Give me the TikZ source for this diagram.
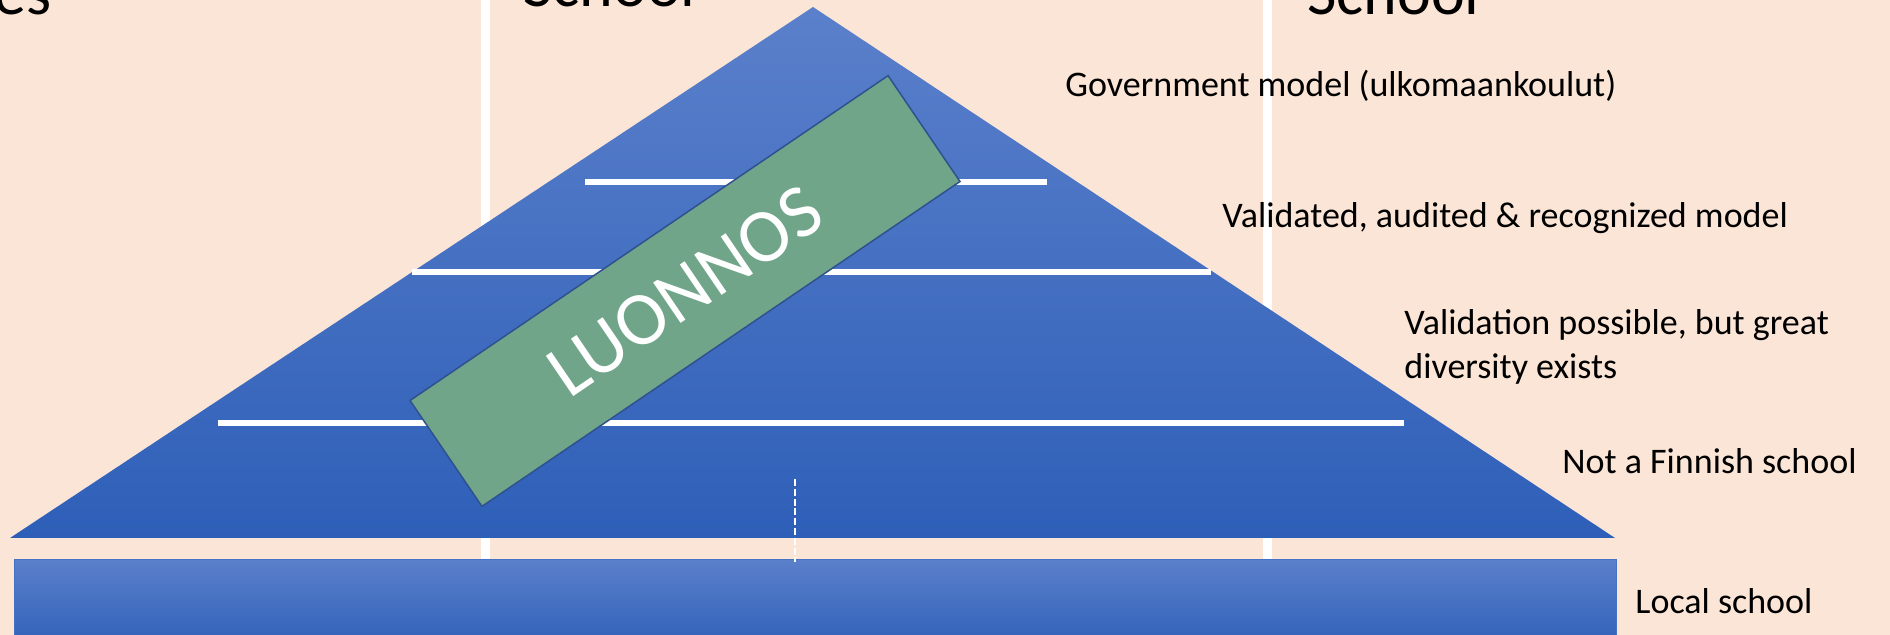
\documentclass[tikz,border=0pt]{standalone}
\usepackage{fontspec}
\setmainfont{Carlito}
\usepackage{tikz}
\usetikzlibrary{calc}
\definecolor{peach}{HTML}{FBE5D6}
\definecolor{bluetop}{HTML}{5B80CB}
\definecolor{bluebot}{HTML}{2E5FB8}
\definecolor{edgeblue}{HTML}{4472C4}
\definecolor{draftgreen}{HTML}{70A58A}
\definecolor{draftline}{HTML}{2F528F}

\begin{document}
\begin{tikzpicture}[x=0.5pt,y=-0.5pt,
    divider/.style={white,line width=3pt},
    level/.style={anchor=base west,inner sep=0pt,font=\fontsize{18}{21.6}\selectfont},
    heading/.style={anchor=base west,inner sep=0pt,font=\fontsize{32}{38}\selectfont}]
              \useasboundingbox (0,0) rectangle (1890,635);
              \clip (0,0) rectangle (1890,635);
              \fill[peach] (0,0) rectangle (1890,635);

              \foreach \x in {485,1267} {\draw[white,line width=4.5pt] (\x,0) -- (\x,560);};

              \coordinate (apex) at (813,7);
              \coordinate (baseleft) at (10,538);
              \coordinate (baseright) at (1615,538);
              \shade[top color=bluetop,bottom color=bluebot] (apex) -- (baseright) -- (baseleft) -- cycle;

              \foreach \y/\a/\b in {182/585/1047, 272/412/1211, 423/218/1404} {\draw[divider] (\a,\y) -- (\b,\y);};

              \shade[top color=bluetop,bottom color=bluebot,draw=edgeblue,line width=0.5pt] (14,560) rectangle (1616,650);

              \coordinate (splittop) at (795,479);
              \coordinate (splitbot) at (795,562);
              \draw[white,line width=1pt,dash pattern=on 3.5pt off 1.4pt] (splittop) -- (splitbot);

              \node[draw=draftline,fill=draftgreen,line width=0.75pt,minimum width=289pt,minimum height=64pt,
                rotate=34.2,text=white,font=\fontsize{38}{46}\selectfont] (draft) at (685,291) {LUONNOS};

              \node[level] (govmodel) at (1065,97) {Government model (ulkomaankoulut)};
              \node[level] (validated) at (1222,228) {Validated, audited \& recognized model};
              \node[level,anchor=west,align=left] (possible) at (1404,347) {Validation possible, but great\\diversity exists};
              \node[level] (notfinnish) at (1562,474) {Not a Finnish school};
              \node[level] (local) at (1635,614) {Local school};

              \node[heading,anchor=base east] (leftcut) at (52,15) {es};
              \node[heading] (midschool) at (523,7) {School};
              \node[heading] (rightschool) at (1307,15) {School};
            \end{tikzpicture}
\end{document}
